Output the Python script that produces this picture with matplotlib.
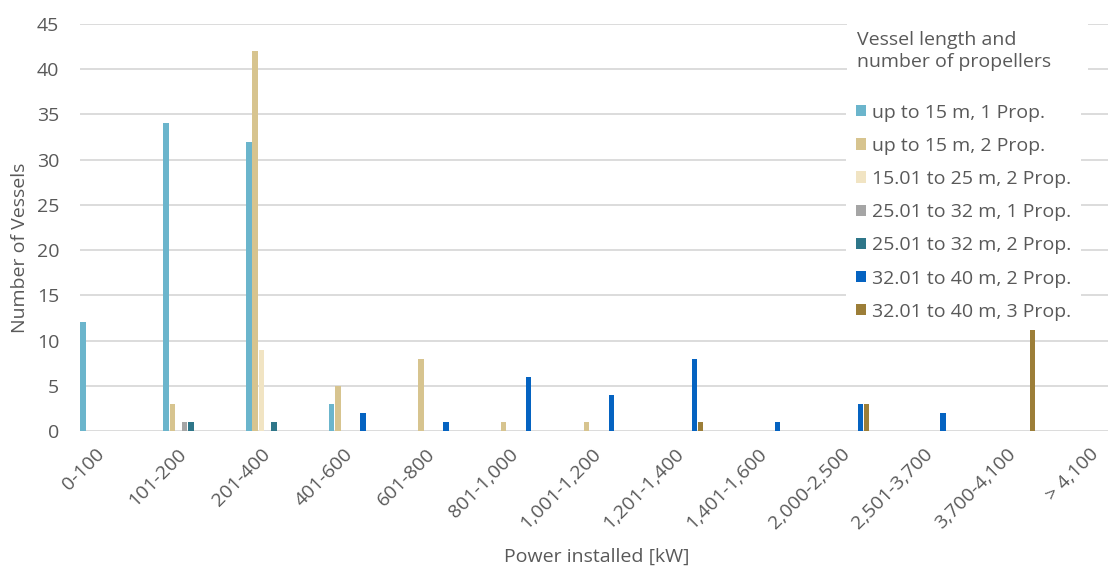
import matplotlib.pyplot as plt
from matplotlib.patches import Patch, Rectangle
from matplotlib.transforms import ScaledTranslation
import numpy as np

plt.rcParams['font.family'] = ['Open Sans', 'DejaVu Sans']

categories = ['0-100', '101-200', '201-400', '401-600', '601-800', '801-1,000',
              '1,001-1,200', '1,201-1,400', '1,401-1,600', '2,000-2,500',
              '2,501-3,700', '3,700-4,100', '> 4,100']
series_names = ['up to 15 m, 1 Prop.', 'up to 15 m, 2 Prop.', '15.01 to 25 m, 2 Prop.',
                '25.01 to 32 m, 1 Prop.', '25.01 to 32 m, 2 Prop.',
                '32.01 to 40 m, 2 Prop.', '32.01 to 40 m, 3 Prop.']
colors = ['#6BB5CC', '#D7C48F', '#F1E4C3', '#A5A5A5', '#2E7689', '#0563C1', '#9C7E38']

up15_1 = [12, 34, 32, 3, 0, 0, 0, 0, 0, 0, 0, 0, 0]
up15_2 = [0, 3, 42, 5, 8, 1, 1, 0, 0, 0, 0, 0, 0]
m15_25_2 = [0, 0, 9, 0, 0, 0, 0, 0, 0, 0, 0, 0, 0]
m25_32_1 = [0, 1, 0, 0, 0, 0, 0, 0, 0, 0, 0, 0, 0]
m25_32_2 = [0, 1, 1, 0, 0, 0, 0, 0, 0, 0, 0, 0, 0]
m32_40_2 = [0, 0, 0, 2, 1, 6, 4, 8, 1, 3, 2, 0, 0]
m32_40_3 = [0, 0, 0, 0, 0, 0, 0, 1, 0, 3, 0, 11.4, 0]
values = [up15_1, up15_2, m15_25_2, m25_32_1, m25_32_2, m32_40_2, m32_40_3]

grey = '#595959'
fs = 14
fig = plt.figure(figsize=(11.08, 5.71), dpi=100)
ax = fig.add_axes([80/1108, 1-431/571, 1-80/1108, (431-24)/571])

x = np.arange(len(categories))
step = 0.0754
for i, (name, vals) in enumerate(zip(series_names, values)):
    ax.bar(x - 3.5*step + (i + 0.5)*step, vals, width=step*0.86, color=colors[i],
           label=name, zorder=2, linewidth=0)

ax.set_xlim(-3.5*step, 12.14)
ax.set_ylim(0, 45)
ax.set_yticks(range(0, 46, 5))
ax.yaxis.grid(True, color='#D9D9D9', linewidth=1.3, zorder=0)
ax.set_axisbelow(True)
for s in ax.spines.values():
    s.set_visible(False)
ax.tick_params(axis='y', length=0, pad=15, labelsize=fs, labelcolor=grey)
ax.tick_params(axis='x', length=0, pad=10, labelsize=fs, labelcolor=grey)
ax.set_xticks(x)
ax.set_xticklabels(categories, rotation=45, ha='right', rotation_mode='anchor')
shift = ScaledTranslation(-7/100, 0, fig.dpi_scale_trans)
for lab in ax.get_xticklabels():
    lab.set_transform(lab.get_transform() + shift)

fig.text(20/1108, 1-248/571, 'Number of Vessels', rotation=90, ha='center', va='center',
         fontsize=fs, color=grey)
fig.text(597/1108, 1-557/571, 'Power installed [kW]', ha='center', va='center',
         fontsize=fs, color=grey)

# legend title box
fig.patches.append(Rectangle((847/1108, 1-84/571), 241/1108, 64/571,
                             transform=fig.transFigure, facecolor='white',
                             edgecolor='none', zorder=1))
fig.text(857/1108, 1-31/571, 'Vessel length and\nnumber of propellers', ha='left', va='top',
         fontsize=fs, color=grey, linespacing=1.3)

handles = [Patch(facecolor=c, edgecolor='none') for c in colors]
leg = ax.legend(handles, series_names, loc='upper left', bbox_to_anchor=(846/1108, 1-94/571),
                bbox_transform=fig.transFigure, frameon=True, facecolor='white',
                edgecolor='none', framealpha=1, fancybox=False, fontsize=fs,
                handlelength=0.52, handleheight=0.52, handletextpad=0.3,
                labelspacing=0.78, borderpad=0.5, borderaxespad=0)
for t in leg.get_texts():
    t.set_color(grey)

plt.savefig('out.png', dpi=100)
